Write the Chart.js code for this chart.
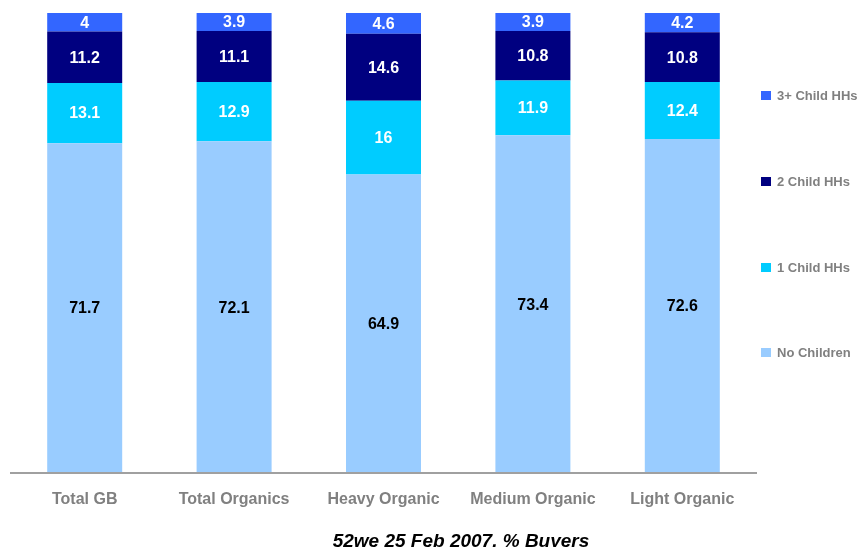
<!DOCTYPE html>
<html>
<head>
<meta charset="utf-8">
<script src="https://cdn.jsdelivr.net/npm/chart.js@4/dist/chart.umd.min.js"></script>
<style>
    html, body { margin: 0; padding: 0; background: #fff; }
    #wrap { width: 859px; height: 547px; }
</style>
</head>
<body>
<div id="wrap"><canvas id="chart" width="859" height="547"></canvas></div>
<script>
// Catégories et séries (% acheteurs)
const categories = ['Total GB', 'Total Organics', 'Heavy Organic', 'Medium Organic', 'Light Organic'];
const noChildren = [71.7, 72.1, 64.9, 73.4, 72.6];
const oneChild = [13.1, 12.9, 16, 11.9, 12.4];
const twoChild = [11.2, 11.1, 14.6, 10.8, 10.8];
const threePlus = [4, 3.9, 4.6, 3.9, 4.2];
const caption = '52we 25 Feb 2007, % Buyers';

const seriesNames = ['No Children', '1 Child HHs', '2 Child HHs', '3+ Child HHs'];
const seriesColors = ['#99CCFF', '#00CCFF', '#000080', '#3366FF'];
const labelColors = ['#000000', '#ffffff', '#ffffff', '#ffffff'];

// Étiquettes de valeurs au centre de chaque segment
const valueLabels = {
    id: 'valueLabels',
    afterDatasetsDraw(chart) {
        const ctx = chart.ctx;
        ctx.save();
        ctx.font = 'bold 16px Arial, "Liberation Sans", sans-serif';
        ctx.textAlign = 'center';
        ctx.textBaseline = 'middle';
        chart.data.datasets.forEach((ds, i) => {
            chart.getDatasetMeta(i).data.forEach((bar, j) => {
                const p = bar.getProps(['x', 'y', 'base'], true);
                ctx.fillStyle = labelColors[i];
                ctx.fillText(String(ds.data[j]), p.x, (p.y + p.base) / 2 + 1);
            });
        });
        ctx.restore();
    }
};

// Légende à droite + légende du bas
const sideLegend = {
    id: 'sideLegend',
    afterDraw(chart) {
        const ctx = chart.ctx;
        const area = chart.chartArea;
        ctx.save();
        // ligne de l'axe
        ctx.strokeStyle = '#a0a0a0';
        ctx.lineWidth = 2;
        ctx.beginPath();
        ctx.moveTo(area.left, area.bottom);
        ctx.lineTo(area.right, area.bottom);
        ctx.stroke();

        const ys = [352, 267, 181, 95];
        ctx.font = 'bold 13px Arial, "Liberation Sans", sans-serif';
        ctx.textBaseline = 'middle';
        ctx.textAlign = 'left';
        seriesNames.forEach((name, i) => {
            ctx.fillStyle = seriesColors[i];
            ctx.fillRect(761, ys[i] - 4, 10, 9);
            ctx.fillStyle = '#808080';
            ctx.fillText(name, 777, ys[i] + 1);
        });

        ctx.font = 'italic bold 19px Arial, "Liberation Sans", sans-serif';
        ctx.textAlign = 'center';
        ctx.textBaseline = 'alphabetic';
        ctx.fillStyle = '#000000';
        ctx.fillText(caption, 461, 547);
        ctx.restore();
    }
};

function createChart() {
    const ctx = document.getElementById('chart').getContext('2d');
    const series = [noChildren, oneChild, twoChild, threePlus];
    new Chart(ctx, {
        type: 'bar',
        data: {
            labels: categories,
            datasets: series.map((data, i) => ({
                label: seriesNames[i],
                data: data,
                backgroundColor: seriesColors[i],
                borderWidth: 0,
                categoryPercentage: 1,
                barPercentage: 0.502
            }))
        },
        options: {
            responsive: false,
            animation: false,
            layout: { padding: { left: 10, right: 102, top: 13, bottom: 0 } },
            plugins: {
                legend: { display: false },
                tooltip: { enabled: false }
            },
            scales: {
                x: {
                    stacked: true,
                    grid: { display: false, drawTicks: false },
                    border: { display: false },
                    ticks: {
                        color: '#808080',
                        padding: 17,
                        font: { family: 'Arial, "Liberation Sans", sans-serif', size: 16, weight: 'bold' }
                    },
                    afterFit(scale) { scale.height = 74; }
                },
                y: {
                    stacked: true,
                    display: false,
                    min: 0,
                    max: 100
                }
            }
        },
        plugins: [valueLabels, sideLegend]
    });
}

createChart();
</script>
</body>
</html>
